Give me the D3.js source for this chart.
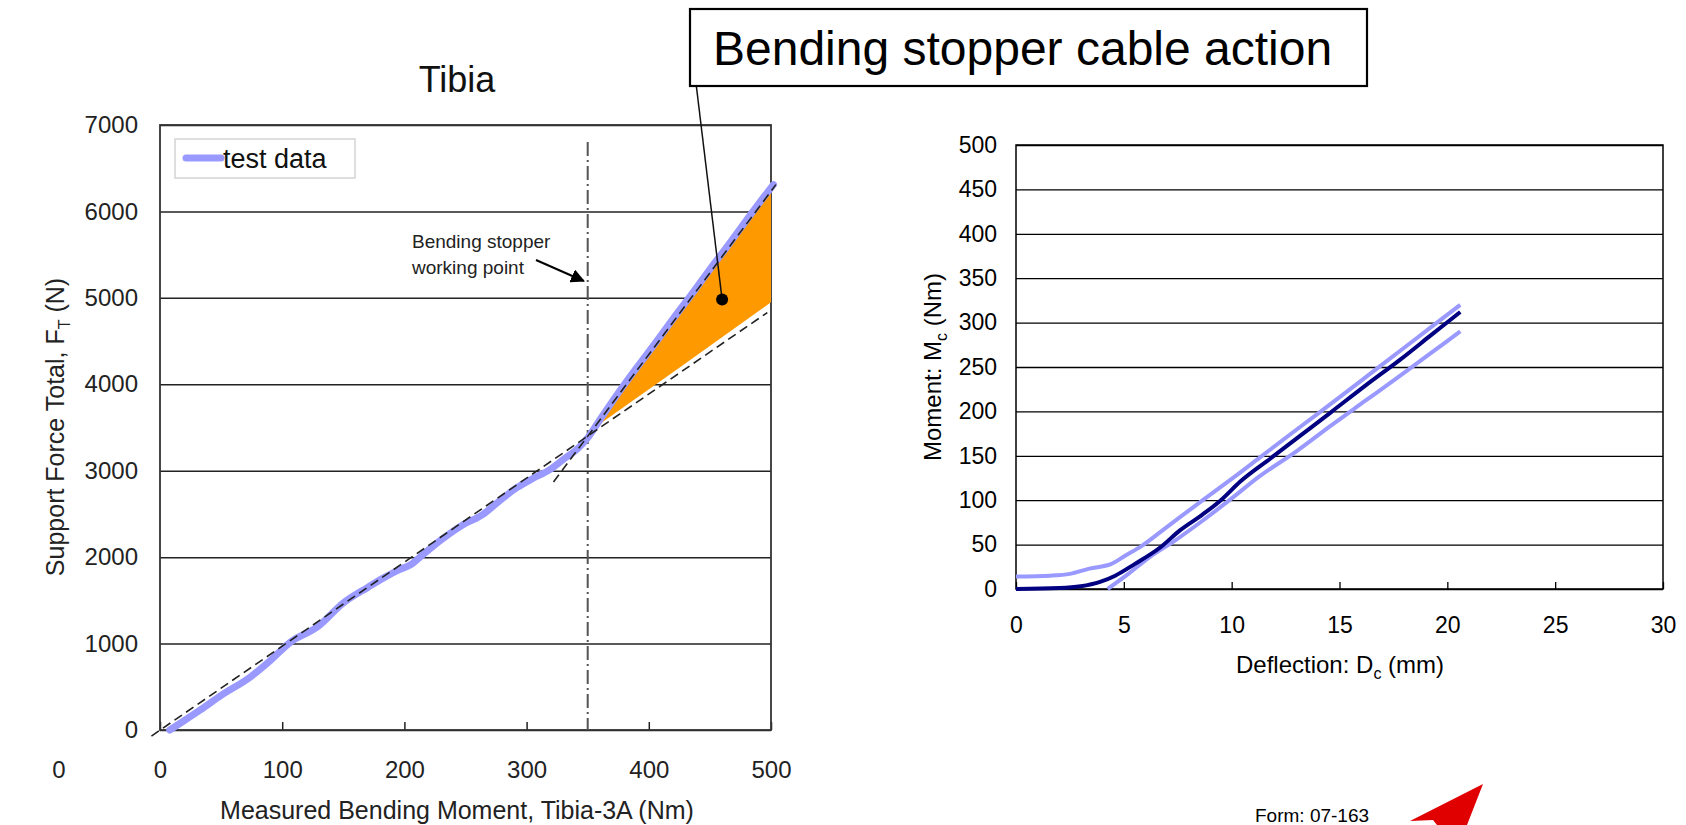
<!DOCTYPE html>
<html>
<head>
<meta charset="utf-8">
<script src="https://d3js.org/d3.v7.min.js"></script>
<style>
  body { margin: 0; background: #fff; }
  svg { display: block; font-family: "Liberation Sans", Arial, sans-serif; }
</style>
</head>
<body>
<svg id="chart" width="1686" height="825"></svg>
<script>
// left chart: Tibia
var tibiaMoment = [8, 20, 33, 50, 74, 90, 107, 129, 150, 170, 183, 195, 205, 215, 230, 248, 264, 276, 292, 305, 319, 330, 341, 350, 360, 375, 390, 405, 420, 435, 450, 465, 480, 490, 502];
var tibiaForce  = [0, 110, 232, 400, 614, 800, 1020, 1194, 1470, 1650, 1760, 1850, 1912, 2028, 2200, 2376, 2492, 2630, 2804, 2910, 3013, 3130, 3245, 3380, 3590, 3900, 4190, 4470, 4760, 5040, 5330, 5610, 5900, 6090, 6310];
var fitLowX = [-7, 497], fitLowY = [-70, 4830];
var fitHighX = [322, 504], fitHighY = [2870, 6310];
var cableX = [355, 500, 500, 425], cableY = [3490, 6240, 4950, 4190];
var stopperMoment = 350;
var markerPoint = [460, 4980];
var tibiaXTicks = [0, 100, 200, 300, 400, 500];
var tibiaYTicks = [0, 1000, 2000, 3000, 4000, 5000, 6000, 7000];

// right chart: moment vs deflection
var deflUpper = [0, 1.6, 2.5, 3.4, 4.4, 5.1, 5.8, 6.9, 8.6, 10, 11.3, 13.2, 14.9, 16.4, 17.8, 19.2, 20.6];
var momUpper  = [14, 15, 17, 23, 28, 38, 48, 68, 99, 124, 148, 183, 214, 242, 268, 294, 320];
var deflMid = [0, 2.0, 3.0, 3.9, 4.6, 5.5, 6.7, 7.6, 8.6, 9.5, 10.4, 11.8, 13.2, 14.6, 16.2, 17.8, 19.2, 20.6];
var momMid  = [0, 1, 3, 8, 15, 28, 47, 66, 83, 100, 121, 147, 173, 199, 229, 258, 285, 312];
var deflLower = [4.25, 5.1, 6.2, 7.4, 8.6, 10.0, 11.3, 13.0, 14.6, 16.2, 17.8, 19.2, 20.6];
var momLower  = [0, 15, 36, 55, 76, 102, 127, 155, 184, 212, 240, 265, 290];
var deflTicks = [0, 5, 10, 15, 20, 25, 30];
var momTicks = [0, 50, 100, 150, 200, 250, 300, 350, 400, 450, 500];

var svg = d3.select("#chart");
var lightBlue = "#9999ff", navy = "#000080";

svg.append("defs").append("marker")
  .attr("id", "arrow").attr("viewBox", "0 0 10 10")
  .attr("refX", 9).attr("refY", 5)
  .attr("markerWidth", 7).attr("markerHeight", 7)
  .attr("orient", "auto")
  .append("path").attr("d", "M0,0 L10,5 L0,10 z").attr("fill", "#000");

//---------------- left chart
var xL = d3.scaleLinear().domain([0, 500]).range([160, 771]),
    yL = d3.scaleLinear().domain([0, 7000]).range([730, 125]);

var gl = svg.append("g");

var yAxisL = gl.append("g")
  .attr("transform", "translate(" + xL(0) + ",0)")
  .call(d3.axisLeft(yL).tickValues(tibiaYTicks).tickSize(-(xL(500) - xL(0))).tickPadding(22).tickFormat(d3.format("d")));
yAxisL.select(".domain").remove();
yAxisL.selectAll("line").attr("stroke", "#222").attr("stroke-width", 1.5);
yAxisL.selectAll("text").attr("font-size", 24).attr("fill", "#222").attr("font-family", "Liberation Sans, Arial");

var xAxisL = gl.append("g")
  .attr("transform", "translate(0," + yL(0) + ")")
  .call(d3.axisBottom(xL).tickValues(tibiaXTicks).tickSize(-8).tickPadding(31).tickFormat(d3.format("d")));
xAxisL.select(".domain").remove();
xAxisL.selectAll("line").attr("stroke", "#222").attr("stroke-width", 1.5);
xAxisL.selectAll("text").attr("font-size", 24).attr("fill", "#222").attr("font-family", "Liberation Sans, Arial");

gl.append("rect")
  .attr("x", xL(0)).attr("y", yL(7000))
  .attr("width", xL(500) - xL(0)).attr("height", yL(0) - yL(7000))
  .attr("fill", "none").attr("stroke", "#333").attr("stroke-width", 1.8);

// stray 0 under the axis title
gl.append("text").attr("x", 59).attr("y", 778).attr("text-anchor", "middle")
  .attr("font-size", 24).attr("fill", "#222").text("0");

// orange region
gl.append("path")
  .datum(d3.range(cableX.length))
  .attr("d", d3.line().x(i => xL(cableX[i])).y(i => yL(cableY[i])).curve(d3.curveLinearClosed))
  .attr("fill", "#ff9900");

// stopper line
gl.append("line")
  .attr("x1", xL(stopperMoment)).attr("x2", xL(stopperMoment))
  .attr("y1", 142).attr("y2", yL(0))
  .attr("stroke", "#555").attr("stroke-width", 2)
  .attr("stroke-dasharray", "14,4,2,4");

// test data
gl.append("path")
  .datum(d3.range(tibiaMoment.length))
  .attr("d", d3.line().x(i => xL(tibiaMoment[i])).y(i => yL(tibiaForce[i])).curve(d3.curveMonotoneX))
  .attr("fill", "none").attr("stroke", lightBlue).attr("stroke-width", 7)
  .attr("stroke-linecap", "round").attr("stroke-linejoin", "round");

// fitted lines
[[fitLowX, fitLowY], [fitHighX, fitHighY]].forEach(function(f) {
  gl.append("line")
    .attr("x1", xL(f[0][0])).attr("y1", yL(f[1][0]))
    .attr("x2", xL(f[0][1])).attr("y2", yL(f[1][1]))
    .attr("stroke", "#222").attr("stroke-width", 1.6)
    .attr("stroke-dasharray", "9,5");
});

// marker dot and callout
gl.append("line")
  .attr("x1", 692).attr("y1", 50)
  .attr("x2", xL(markerPoint[0])).attr("y2", yL(markerPoint[1]))
  .attr("stroke", "#111").attr("stroke-width", 1.5);
gl.append("circle")
  .attr("cx", xL(markerPoint[0])).attr("cy", yL(markerPoint[1])).attr("r", 6)
  .attr("fill", "#000");

// working point note
gl.append("text").attr("x", 412).attr("y", 248).attr("font-size", 19).attr("fill", "#222").text("Bending stopper");
gl.append("text").attr("x", 412).attr("y", 274).attr("font-size", 19).attr("fill", "#222").text("working point");
gl.append("line")
  .attr("x1", 536).attr("y1", 260).attr("x2", xL(stopperMoment) - 4).attr("y2", 281)
  .attr("stroke", "#000").attr("stroke-width", 2)
  .attr("marker-end", "url(#arrow)");

// legend
gl.append("rect").attr("x", 175).attr("y", 139).attr("width", 180).attr("height", 39)
  .attr("fill", "#fff").attr("stroke", "#d4d4d4").attr("stroke-width", 1.5);
gl.append("line").attr("x1", 186).attr("x2", 221).attr("y1", 158).attr("y2", 158)
  .attr("stroke", lightBlue).attr("stroke-width", 7).attr("stroke-linecap", "round");
gl.append("text").attr("x", 223).attr("y", 168).attr("font-size", 27).attr("fill", "#111").text("test data");

// titles
gl.append("text").attr("x", 457).attr("y", 92).attr("text-anchor", "middle")
  .attr("font-size", 36).attr("fill", "#111").text("Tibia");
gl.append("text").attr("x", 457).attr("y", 819).attr("text-anchor", "middle")
  .attr("font-size", 25).attr("fill", "#222").text("Measured Bending Moment, Tibia-3A (Nm)");
var ytl = gl.append("text").attr("transform", "translate(64,427) rotate(-90)")
  .attr("text-anchor", "middle").attr("font-size", 25).attr("fill", "#222");
ytl.append("tspan").text("Support Force Total, F");
ytl.append("tspan").attr("font-size", 16).attr("dy", 6).text("T");
ytl.append("tspan").attr("dy", -6).text(" (N)");

// callout box
svg.append("rect").attr("x", 690).attr("y", 9).attr("width", 677).attr("height", 77)
  .attr("fill", "#fff").attr("stroke", "#000").attr("stroke-width", 2.2);
svg.append("text").attr("x", 713).attr("y", 65).attr("font-size", 48).attr("fill", "#000")
  .text("Bending stopper cable action");

//---------------- right chart
var xR = d3.scaleLinear().domain([0, 30]).range([1016, 1663]),
    yR = d3.scaleLinear().domain([0, 500]).range([589, 145]);

var gr = svg.append("g");

var yAxisR = gr.append("g")
  .attr("transform", "translate(" + xR(0) + ",0)")
  .call(d3.axisLeft(yR).tickValues(momTicks).tickSize(-(xR(30) - xR(0))).tickPadding(19));
yAxisR.select(".domain").remove();
yAxisR.selectAll("line").attr("stroke", "#000").attr("stroke-width", 1.3);
yAxisR.selectAll("text").attr("font-size", 23).attr("fill", "#000").attr("font-family", "Liberation Sans, Arial");

var xAxisR = gr.append("g")
  .attr("transform", "translate(0," + yR(0) + ")")
  .call(d3.axisBottom(xR).tickValues(deflTicks).tickSize(-7).tickPadding(28));
xAxisR.select(".domain").remove();
xAxisR.selectAll("line").attr("stroke", "#000").attr("stroke-width", 1.3);
xAxisR.selectAll("text").attr("font-size", 23).attr("fill", "#000").attr("font-family", "Liberation Sans, Arial");

gr.append("rect")
  .attr("x", xR(0)).attr("y", yR(500))
  .attr("width", xR(30) - xR(0)).attr("height", yR(0) - yR(500))
  .attr("fill", "none").attr("stroke", "#000").attr("stroke-width", 1.5);

var series = [
  {x: deflUpper, y: momUpper, color: lightBlue},
  {x: deflLower, y: momLower, color: lightBlue},
  {x: deflMid, y: momMid, color: navy}
];
series.forEach(function(s) {
  gr.append("path")
    .datum(d3.range(s.x.length))
    .attr("d", d3.line().x(i => xR(s.x[i])).y(i => yR(s.y[i])).curve(d3.curveMonotoneX))
    .attr("fill", "none").attr("stroke", s.color).attr("stroke-width", 4)
    .attr("stroke-linejoin", "round");
});

var xtr = gr.append("text").attr("x", 1340).attr("y", 673).attr("text-anchor", "middle")
  .attr("font-size", 24).attr("fill", "#000");
xtr.append("tspan").text("Deflection: D");
xtr.append("tspan").attr("font-size", 16).attr("dy", 6).text("c");
xtr.append("tspan").attr("dy", -6).text(" (mm)");

var ytr = gr.append("text").attr("transform", "translate(941,367) rotate(-90)")
  .attr("text-anchor", "middle").attr("font-size", 24).attr("fill", "#000");
ytr.append("tspan").text("Moment: M");
ytr.append("tspan").attr("font-size", 16).attr("dy", 6).text("c");
ytr.append("tspan").attr("dy", -6).text(" (nm)".replace("nm", "Nm"));

// footer
svg.append("text").attr("x", 1255).attr("y", 822).attr("font-size", 19).attr("fill", "#000").text("Form: 07-163");
svg.append("path")
  .attr("d", "M1410,821 L1483,784 L1467,825 L1437,825 L1433,820 Z")
  .attr("fill", "#e00000");
</script>
</body>
</html>
